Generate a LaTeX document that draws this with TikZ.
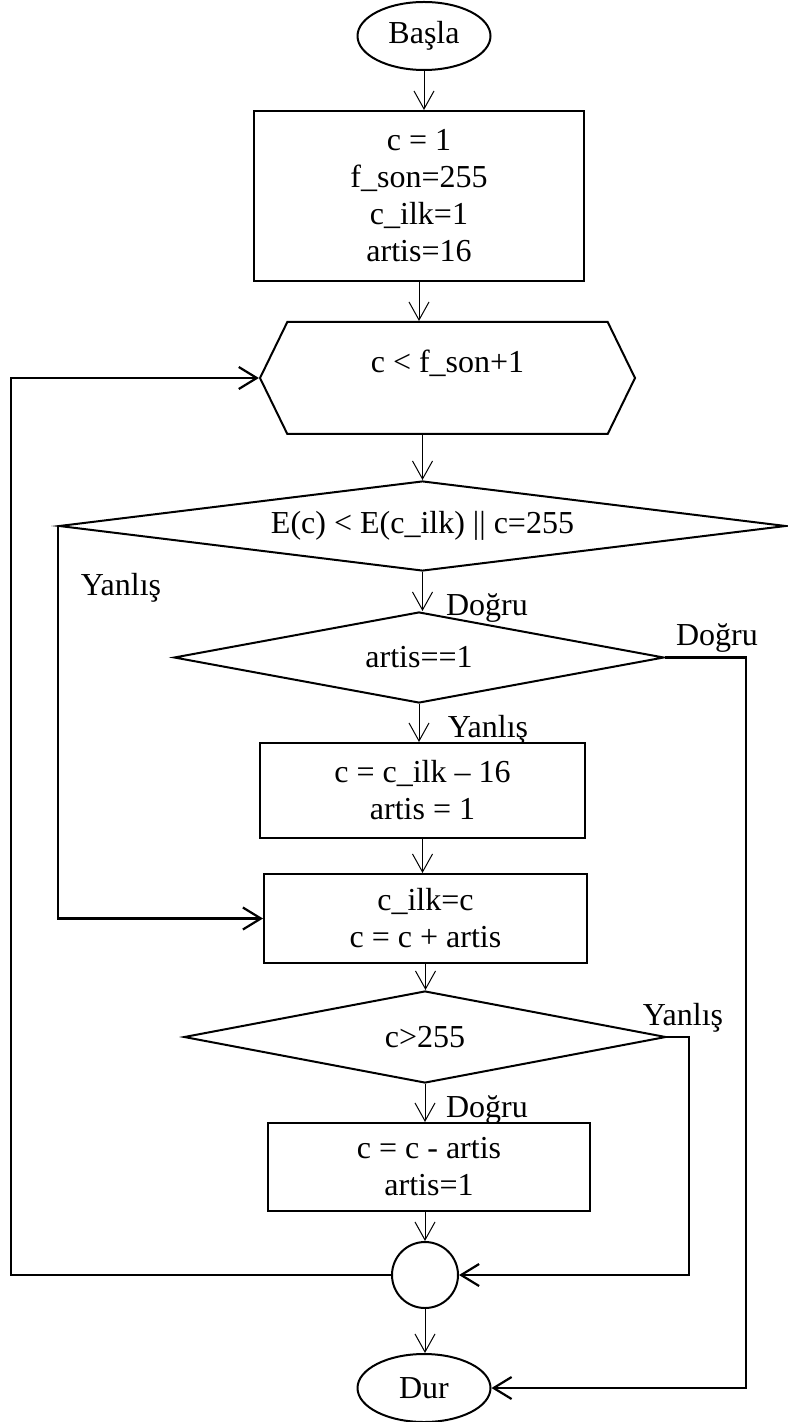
\documentclass[tikz,border=0pt]{standalone}
\usepackage{fontspec}
\setmainfont{Liberation Serif}
\usepackage{tikz}
\usetikzlibrary{shapes.geometric, shapes.symbols, arrows.meta}

\begin{document}
\begin{tikzpicture}[x=0.5pt, y=-0.5pt,
      font=\fontsize{16}{18.5}\selectfont,
      outline/.style={draw, line width=1pt, inner sep=0pt},
      terminal/.style={outline, ellipse, minimum width=66.5pt, minimum height=34pt},
      process/.style={outline, rectangle, align=center},
      decision/.style={outline, diamond, shape aspect=5.3},
      flow/.style={line width=0.5pt, -{Straight Barb[length=9pt, width=10pt]}},
      jump/.style={line width=1.1pt, -{Straight Barb[length=9pt, width=11pt]}}]

      \useasboundingbox (0,0) rectangle (787,1422);

      \node[terminal] (basla) at (424,36) {Başla};
      \node[process, minimum width=165pt, minimum height=85pt] (init) at (419,196)
        {c = 1\\f\_son=255\\c\_ilk=1\\artis=16};
      \node[outline, signal, signal to=east and west, signal pointer angle=128,
        minimum width=187.5pt, minimum height=56pt,
        label={[yshift=7.5pt]center:{c < f\_son+1}}] (loop) at (447.5,378) {};
      \node[decision, shape aspect=8, minimum width=363.5pt, minimum height=45pt] (cmp)
        at (422.5,526) {E(c) < E(c\_ilk) || c=255};
      \node[decision, minimum width=245pt, minimum height=45.5pt] (check) at (419,657.5) {artis==1};
      \node[process, minimum width=162.5pt, minimum height=47.5pt] (back) at (422.5,790.5)
        {c = c\_ilk – 16\\artis = 1};
      \node[process, minimum width=161.5pt, minimum height=44.5pt] (advance) at (425.5,918.5)
        {c\_ilk=c\\c = c + artis};
      \node[decision, minimum width=241pt, minimum height=46pt] (limit) at (425,1037) {c>255};
      \node[process, minimum width=161pt, minimum height=44pt] (undo) at (429,1167)
        {c = c - artis\\artis=1};
      \node[outline, circle, minimum size=33pt] (merge) at (425,1275) {};
      \node[terminal] (dur) at (424,1388) {Dur};

      \draw[flow] (basla.south) -- (basla.south |- init.north);
      \draw[flow] (init.south) -- (init.south |- loop.north);
      \draw[flow] (cmp.north |- loop.south) -- (cmp.north);
      \draw[flow] (cmp.south) -- (cmp.south |- check.north);
      \draw[flow] (check.south) -- (check.south |- back.north);
      \draw[flow] (back.south) -- (back.south |- advance.north);
      \draw[flow] (advance.south) -- (advance.south |- limit.north);
      \draw[flow] (limit.south) -- (limit.south |- undo.north);
      \draw[flow] (merge.north |- undo.south) -- (merge.north);
      \draw[flow] (merge.south) -- (merge.south |- dur.north);

      \draw[jump] (cmp.west) |- (advance.west);
      \draw[jump] (check.east) -- ++(81,0) |- (dur.east);
      \draw[jump] (limit.east) -- ++(22,0) |- (merge.east);
      \draw[jump] (merge.west) -- ++(-380,0) |- (loop.west);

      \node (no1) at (121,588) {Yanlış};
      \node (yes1) at (487,608) {Doğru};
      \node (yes2) at (717,638) {Doğru};
      \node (no2) at (488,730) {Yanlış};
      \node (no3) at (683,1018) {Yanlış};
      \node (yes3) at (487,1110) {Doğru};
\end{tikzpicture}
\end{document}
